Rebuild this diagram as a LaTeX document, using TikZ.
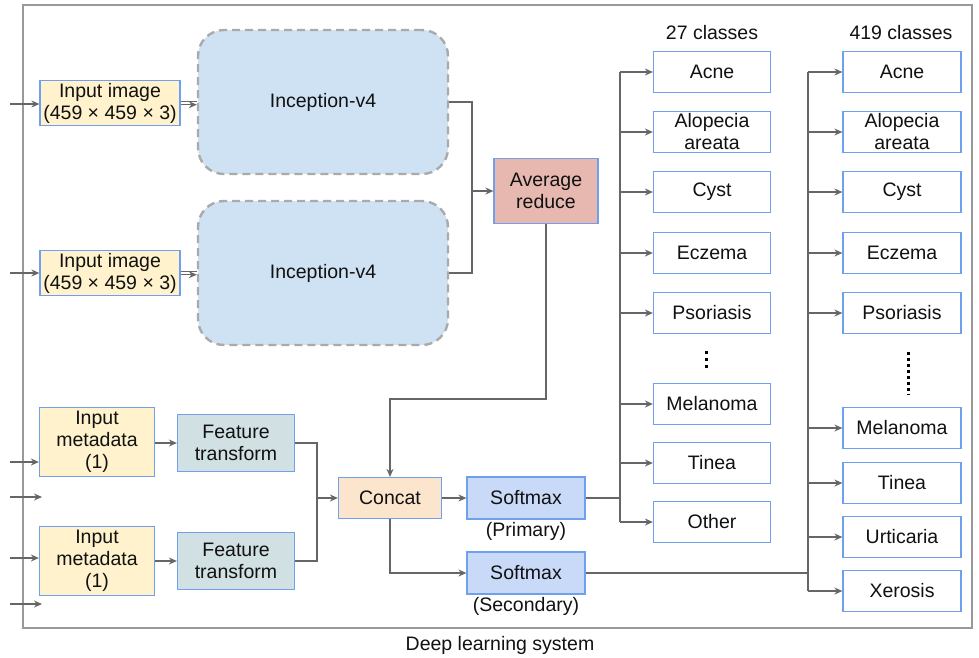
\documentclass[tikz,border=0pt]{standalone}
\usepackage{fontspec}
\setmainfont{Liberation Sans}
\usepackage{xcolor}
\usepackage{tikz}
\usetikzlibrary{positioning}
\usetikzlibrary{arrows.meta}

\definecolor{boxblue}{HTML}{6FA0EE}
\definecolor{linegray}{HTML}{666666}
\definecolor{framegray}{HTML}{999999}
\definecolor{incgray}{HTML}{AAAAAA}
\definecolor{imgfill}{HTML}{FFF2CC}
\definecolor{featfill}{HTML}{D0E0E3}
\definecolor{incfill}{HTML}{CFE2F3}
\definecolor{avgfill}{HTML}{E6B8AF}
\definecolor{catfill}{HTML}{FCE5CD}
\definecolor{softfill}{HTML}{C9DAF8}
\definecolor{inkcol}{HTML}{111111}

\begin{document}
\begin{tikzpicture}[x=1pt,y=-1pt,
    font=\fontsize{19.5}{22}\selectfont, text=inkcol,
    box/.style={draw=boxblue, line width=1.2pt, align=center, inner sep=0pt},
    imgbox/.style={box, fill=imgfill, minimum width=140pt, minimum height=45pt},
    metabox/.style={box, fill=imgfill, minimum width=115pt, minimum height=69pt},
    featbox/.style={box, fill=featfill, minimum width=117pt, minimum height=57pt},
    incbox/.style={draw=incgray, line width=2.4pt, dash pattern=on 8pt off 5pt,
        rounded corners=26pt, fill=incfill, minimum width=250pt, minimum height=144pt},
    avgbox/.style={box, fill=avgfill, minimum width=104pt, minimum height=65pt},
    catbox/.style={box, fill=catfill, minimum width=103pt, minimum height=41pt},
    softbox/.style={box, fill=softfill, minimum width=118pt, minimum height=42pt},
    clsbox/.style={box, fill=white, minimum width=117pt, minimum height=41pt},
    conn/.style={draw=linegray, line width=1.3pt},
    arr/.style={conn, -{Stealth[length=8pt,width=7pt]}},
    dotcol/.style={draw=black, line width=3pt, dash pattern=on 3pt off 3pt}]
    \useasboundingbox (0,0) rectangle (979,657);

    % Frame and caption
    \draw[framegray, line width=2pt] (23,5) rectangle (972,628);
    \node (cap) at (500,645) {Deep learning system};

    % Image inputs and backbones
    \node[imgbox] (img1) at (110,103) {Input image\\(459 × 459 × 3)};
    \node[imgbox] (img2) at (110,273) {Input image\\(459 × 459 × 3)};
    \node[incbox] (inc1) at (323,102) {Inception-v4};
    \node[incbox] (inc2) at (323,273) {Inception-v4};
    \node[avgbox] (avg) at (546,191) {Average\\reduce};

    % Metadata inputs
    \node[metabox] (meta1) at (97,442) {Input\\metadata\\(1)};
    \node[metabox] (meta2) at (97,561) {Input\\metadata\\(1)};
    \node[featbox] (ft1) at (236,443) {Feature\\transform};
    \node[featbox] (ft2) at (236,561) {Feature\\transform};

    % Heads
    \node[catbox] (cat) at (390,498) {Concat};
    \node[softbox] (smP) at (526,498) {Softmax};
    \node[softbox] (smS) at (526,573) {Softmax};
    \node[below=1pt of smP, inner sep=2pt] (smPlbl) {(Primary)};
    \node[below=1pt of smS, inner sep=2pt] (smSlbl) {(Secondary)};

    % 27 classes
    \node (hdA) at (712,33) {27 classes};
    \foreach \name/\yy/\txt in {a1/72/Acne, a2/132/{Alopecia\\areata}, a3/192/Cyst,
        a4/253/Eczema, a5/313/Psoriasis, a6/404/Melanoma, a7/463/Tinea, a8/522/Other}
        \node[clsbox] (\name) at (712,\yy) {\txt};
    \draw[dotcol, dash pattern=on 3pt off 4pt] (706,351) -- (706,371);

    % 419 classes
    \node (hdB) at (901,33) {419 classes};
    \foreach \name/\yy/\txt in {b1/72/Acne, b2/132/{Alopecia\\areata}, b3/192/Cyst,
        b4/253/Eczema, b5/313/Psoriasis, b6/428/Melanoma, b7/483/Tinea,
        b8/537/Urticaria, b9/591/Xerosis}
        \node[clsbox, minimum width=118pt] (\name) at (902,\yy) {\txt};
    \draw[dotcol] (908,352) -- (908,395);

    % Incoming arrows
    \coordinate (in1) at (10,104);
    \coordinate (in2) at (10,273);
    \coordinate (in3) at (10,462);
    \coordinate (in4) at (10,497);
    \coordinate (in5) at (10,558);
    \coordinate (in6) at (10,604);
    \coordinate (end4) at (42,497);
    \coordinate (end6) at (42,604);
    \draw[arr] (in1) -- (in1 -| img1.west);
    \draw[arr] (in2) -- (in2 -| img2.west);
    \draw[arr] (in3) -- (in3 -| meta1.west);
    \draw[arr] (in4) -- (end4);
    \draw[arr] (in5) -- (in5 -| meta2.west);
    \draw[arr] (in6) -- (end6);

    % Image to backbone (double)
    \foreach \src/\dst in {img1/inc1, img2/inc2} {
        \draw[conn] ([yshift=1.7pt]\src.east) -- ([yshift=1.7pt]\src.east -| \dst.west);
        \draw[arr] ([yshift=-1.7pt]\src.east) -- ([yshift=-1.7pt]\src.east -| \dst.west);
    }

    % Backbones to average
    \coordinate (joinI) at (472,191);
    \draw[conn] (inc1.east) -| (joinI) |- (inc2.east);
    \draw[arr] (joinI) -- (avg.west);
    \draw[arr] (avg.south) |- ([yshift=78pt]cat.north) -- (cat.north);

    % Metadata to concat
    \draw[arr] (meta1.east |- ft1.west) -- (ft1.west);
    \draw[arr] (meta2.east |- ft2.west) -- (ft2.west);
    \coordinate (joinF) at (317,498);
    \draw[conn] (ft1.east) -| (joinF) |- (ft2.east);
    \draw[arr] (joinF) -- (cat.west);

    % Concat to softmax
    \draw[arr] (cat.east) -- (smP.west);
    \draw[arr] (cat.south) |- (smS.west);

    % Primary bus
    \coordinate (busA) at (620,498);
    \draw[conn] (smP.east) -- (busA);
    \draw[conn] (busA |- a1.west) -- (busA |- a8.west);
    \foreach \name in {a1,a2,a3,a4,a5,a6,a7,a8}
        \draw[arr] (busA |- \name.west) -- (\name.west);

    % Secondary bus
    \coordinate (busB) at (808,573);
    \draw[conn] (smS.east) -- (busB);
    \draw[conn] (busB |- b1.west) -- (busB |- b9.west);
    \foreach \name in {b1,b2,b3,b4,b5,b6,b7,b8,b9}
        \draw[arr] (busB |- \name.west) -- (\name.west);
\end{tikzpicture}
\end{document}
